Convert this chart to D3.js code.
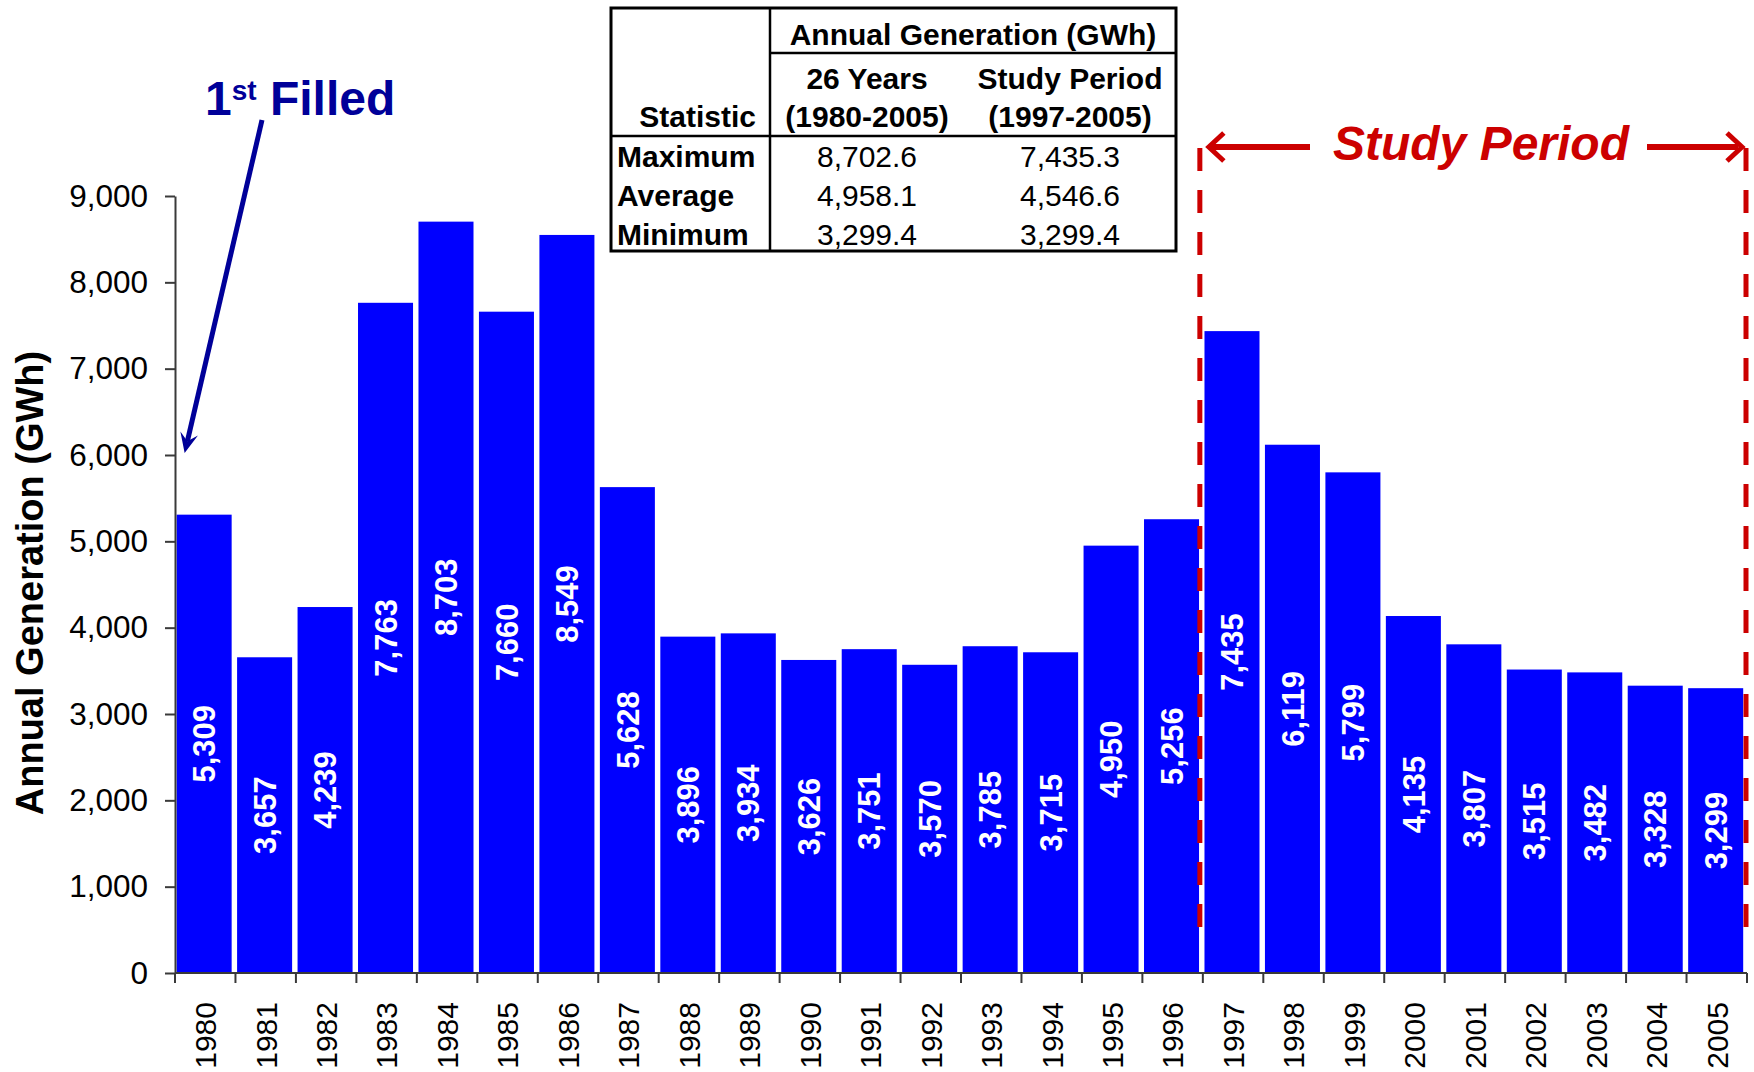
<!DOCTYPE html>
<html>
<head>
<meta charset="utf-8">
<script src="https://cdn.jsdelivr.net/npm/d3@7"></script>
<style>
  html, body { margin: 0; padding: 0; background: #fff; }
  svg { display: block; font-family: "Liberation Sans", Arial, Helvetica, sans-serif; }
</style>
</head>
<body>
<svg id="chart" width="1754" height="1072"></svg>
<script>
// Annual generation per year (GWh)
const years = ["1980","1981","1982","1983","1984","1985","1986","1987","1988","1989","1990",
  "1991","1992","1993","1994","1995","1996","1997","1998","1999","2000","2001","2002","2003","2004","2005"];
const generation = [5309,3657,4239,7763,8703,7660,8549,5628,3896,3934,3626,3751,3570,3785,3715,
  4950,5256,7435,6119,5799,4135,3807,3515,3482,3328,3299];
const yTicks = [0,1000,2000,3000,4000,5000,6000,7000,8000,9000];

// Summary table
const tableTitle = "Annual Generation (GWh)";
const colHeads1 = ["26 Years", "Study Period"];
const colHeads2 = ["(1980-2005)", "(1997-2005)"];
const statNames = ["Maximum", "Average", "Minimum"];
const stat26 = ["8,702.6", "4,958.1", "3,299.4"];
const statStudy = ["7,435.3", "4,546.6", "3,299.4"];

const studyStart = "1997", studyEnd = "2005";

const svg = d3.select("#chart");
const m = { left: 175, right: 1747, top: 196, bottom: 973 };
const BLUE = "#0000ff", RED = "#cc0000", NAVY = "#000099", AXIS = "#3a3a3a";

const x = d3.scaleBand().domain(years).range([m.left, m.right])
  .paddingInner(0.09).paddingOuter(0.045).align(0.3);
// category boundaries (ticks sit between categories)
const xb = d3.scaleLinear().domain([0, years.length]).range([m.left, m.right]);
const y = d3.scaleLinear().domain([0, 9000]).range([m.bottom, m.top]);

const fmt = d3.format(",");

// bars
svg.append("g").selectAll("rect").data(years).join("rect")
  .attr("x", d => x(d))
  .attr("y", (d, i) => y(generation[i]))
  .attr("width", x.bandwidth())
  .attr("height", (d, i) => y(0) - y(generation[i]))
  .attr("fill", BLUE);

// value labels, centred in each bar
svg.append("g").selectAll("text").data(years).join("text")
  .attr("transform", (d, i) => `translate(${x(d) + x.bandwidth() / 2},${(y(generation[i]) + y(0)) / 2}) rotate(-90)`)
  .attr("text-anchor", "middle")
  .attr("dy", "0.36em")
  .attr("fill", "#fff")
  .attr("font-weight", "bold")
  .attr("font-size", 31)
  .text((d, i) => fmt(generation[i]));

// y axis
const yAxis = svg.append("g").attr("transform", `translate(${m.left},0)`)
  .call(d3.axisLeft(y).tickValues(yTicks).tickFormat(fmt).tickSize(10).tickSizeOuter(0).tickPadding(17));
yAxis.select(".domain").attr("stroke", AXIS).attr("stroke-width", 2);
yAxis.selectAll(".tick line").attr("stroke", AXIS).attr("stroke-width", 2);
yAxis.selectAll(".tick text").attr("font-size", 31.5).attr("fill", "#000")
  .attr("font-family", "\"Liberation Sans\", Arial, sans-serif");

// x axis: baseline, boundary ticks and rotated year labels
const xAxis = svg.append("g");
xAxis.append("line").attr("x1", m.left).attr("x2", m.right).attr("y1", y(0)).attr("y2", y(0))
  .attr("stroke", AXIS).attr("stroke-width", 2);
xAxis.selectAll("line.tk").data(d3.range(years.length + 1)).join("line").attr("class", "tk")
  .attr("x1", d => xb(d)).attr("x2", d => xb(d))
  .attr("y1", y(0)).attr("y2", y(0) + 10)
  .attr("stroke", AXIS).attr("stroke-width", 2);
xAxis.selectAll("text").data(years).join("text")
  .attr("transform", (d, i) => `translate(${(xb(i) + xb(i + 1)) / 2},${y(0) + 29}) rotate(-90)`)
  .attr("text-anchor", "end")
  .attr("dy", "0.36em")
  .attr("font-size", 30)
  .attr("fill", "#000")
  .text(d => d);

// y axis title
svg.append("text")
  .attr("transform", `translate(43,583) rotate(-90)`)
  .attr("text-anchor", "middle")
  .attr("font-weight", "bold")
  .attr("font-size", 38)
  .attr("fill", "#000")
  .text("Annual Generation (GWh)");

// study period markers
const iStart = years.indexOf(studyStart), iEnd = years.indexOf(studyEnd) + 1;
const xL = xb(iStart) - 3, xR = xb(iEnd) - 1;
const dashTop = 148, dashBottom = 928;
[xL, xR].forEach(xx => {
  svg.append("line").attr("x1", xx).attr("x2", xx).attr("y1", dashTop).attr("y2", dashBottom)
    .attr("stroke", RED).attr("stroke-width", 5).attr("stroke-dasharray", "23,19");
});
const arrowY = 147;
svg.append("text")
  .attr("x", 1481).attr("y", 160)
  .attr("text-anchor", "middle")
  .attr("font-weight", "bold").attr("font-style", "italic")
  .attr("font-size", 48).attr("fill", RED)
  .text("Study Period");
// left arrow
svg.append("line").attr("x1", 1310).attr("x2", xL + 10).attr("y1", arrowY).attr("y2", arrowY)
  .attr("stroke", RED).attr("stroke-width", 6);
svg.append("polyline")
  .attr("points", `${xL + 24},${arrowY - 14} ${xL + 9},${arrowY} ${xL + 24},${arrowY + 14}`)
  .attr("fill", "none").attr("stroke", RED).attr("stroke-width", 5).attr("stroke-miterlimit", 10);
// right arrow
svg.append("line").attr("x1", 1647).attr("x2", xR - 8).attr("y1", arrowY).attr("y2", arrowY)
  .attr("stroke", RED).attr("stroke-width", 6);
svg.append("polyline")
  .attr("points", `${xR - 19},${arrowY - 14} ${xR - 4},${arrowY} ${xR - 19},${arrowY + 14}`)
  .attr("fill", "none").attr("stroke", RED).attr("stroke-width", 5).attr("stroke-miterlimit", 10);

// "1st Filled" annotation with arrow pointing at the first year
const ann = svg.append("text").attr("x", 205).attr("y", 115)
  .attr("font-weight", "bold").attr("fill", NAVY).attr("font-size", 48);
ann.append("tspan").text("1");
ann.append("tspan").attr("font-size", 28).attr("dy", -15).text("st");
ann.append("tspan").attr("dy", 15).text(" Filled");

const tip = [x(years[0]) + 8, y(6000) - 2], tail = [262, 120];
const ang = Math.atan2(tip[1] - tail[1], tip[0] - tail[0]);
const headLen = 20, headW = 9;
const ux = Math.cos(ang), uy = Math.sin(ang), px = -uy, py = ux;
svg.append("line")
  .attr("x1", tail[0]).attr("y1", tail[1])
  .attr("x2", tip[0] - ux * headLen * 0.6).attr("y2", tip[1] - uy * headLen * 0.6)
  .attr("stroke", NAVY).attr("stroke-width", 5);
svg.append("path")
  .attr("d", `M${tip[0]},${tip[1]}
    L${tip[0] - ux * headLen + px * headW},${tip[1] - uy * headLen + py * headW}
    L${tip[0] - ux * headLen * 0.6},${tip[1] - uy * headLen * 0.6}
    L${tip[0] - ux * headLen - px * headW},${tip[1] - uy * headLen - py * headW}Z`)
  .attr("fill", NAVY);

// statistics table
const T = { left: 611, right: 1176, top: 8, bottom: 251, col1: 770, head: 53, rule: 136 };
const cx = [867, 1070];
const tbl = svg.append("g");
tbl.append("rect").attr("x", T.left).attr("y", T.top)
  .attr("width", T.right - T.left).attr("height", T.bottom - T.top)
  .attr("fill", "#fff").attr("stroke", "#000").attr("stroke-width", 3);
tbl.append("line").attr("x1", T.col1).attr("x2", T.col1).attr("y1", T.top).attr("y2", T.bottom)
  .attr("stroke", "#000").attr("stroke-width", 2.5);
tbl.append("line").attr("x1", T.col1).attr("x2", T.right).attr("y1", T.head).attr("y2", T.head)
  .attr("stroke", "#000").attr("stroke-width", 2.5);
tbl.append("line").attr("x1", T.left).attr("x2", T.right).attr("y1", T.rule).attr("y2", T.rule)
  .attr("stroke", "#000").attr("stroke-width", 2.5);

const fs = 30;
function cell(tx, ty, txt, anchor, bold) {
  tbl.append("text").attr("x", tx).attr("y", ty).attr("dy", "0.36em")
    .attr("text-anchor", anchor).attr("font-size", fs)
    .attr("font-weight", bold ? "bold" : "normal").attr("fill", "#000").text(txt);
}
cell((T.col1 + T.right) / 2, 34, tableTitle, "middle", true);
colHeads1.forEach((t, i) => cell(cx[i], 78, t, "middle", true));
colHeads2.forEach((t, i) => cell(cx[i], 116, t, "middle", true));
cell(T.col1 - 14, 116, "Statistic", "end", true);
const rowY = [156, 195, 234];
statNames.forEach((t, i) => {
  cell(T.left + 6, rowY[i], t, "start", true);
  cell(cx[0], rowY[i], stat26[i], "middle", false);
  cell(cx[1], rowY[i], statStudy[i], "middle", false);
});
</script>
</body>
</html>
